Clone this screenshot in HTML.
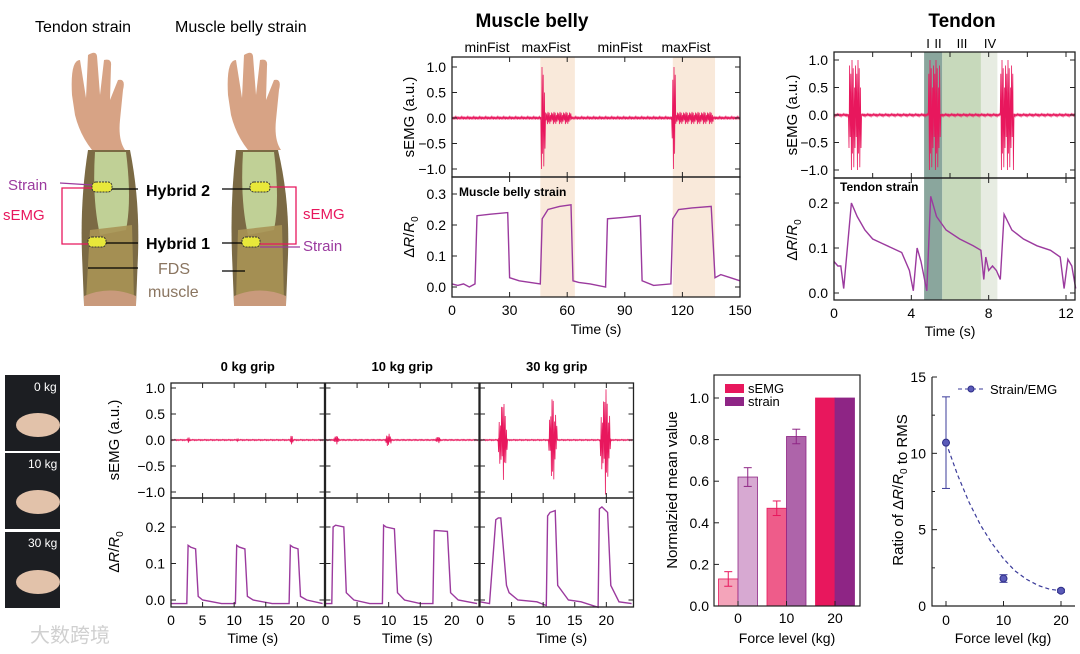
<!DOCTYPE html>
<html><head><meta charset="utf-8"><style>
html,body{margin:0;padding:0;background:#fff;}
svg{display:block;font-family:"Liberation Sans","Noto Sans CJK SC",sans-serif;}
</style></head><body>
<svg id="fig" width="1080" height="654" viewBox="0 0 1080 654" xmlns="http://www.w3.org/2000/svg">
<g>
<text x="35" y="32" font-size="16">Tendon strain</text>
<text x="175" y="32" font-size="16">Muscle belly strain</text>
<g>
<path d="M72 95 Q70 60 80 60 L86 98 L88 55 Q96 50 97 56 L100 95 L104 60 Q112 58 111 66 L110 100 L118 80 Q126 78 123 90 L120 120 Q118 140 125 150 L92 150 Q80 135 75 115 Z" fill="#d7a385"/>
<path d="M88 150 L130 150 Q140 200 138 255 L136 305 L84 305 L82 255 Q80 200 88 150 Z" fill="#7b6a44"/>
<path d="M95 152 L126 152 Q132 200 126 230 L100 235 Q92 200 95 152 Z" fill="#c8dca0" opacity="0.9"/>
<path d="M90 230 L132 225 L134 300 L86 300 Z" fill="#a89355" opacity="0.9"/>
<path d="M84 296 Q110 285 136 296 L136 306 L84 306Z" fill="#c99a7c"/>
<rect x="92" y="182" width="20" height="10" rx="4" fill="#e8e83a" stroke="#333" stroke-dasharray="2,1"/>
<rect x="88" y="237" width="18" height="10" rx="4" fill="#e8e83a" stroke="#333" stroke-dasharray="2,1"/>
</g>
<g>
<path d="M228 95 Q226 60 236 60 L242 98 L244 55 Q252 50 253 56 L256 95 L260 60 Q268 58 267 66 L266 100 L274 80 Q282 78 279 90 L276 120 Q274 140 281 150 L248 150 Q236 135 231 115 Z" fill="#d7a385"/>
<path d="M236 150 L278 150 Q290 200 288 255 L286 305 L234 305 L232 255 Q230 200 236 150 Z" fill="#7b6a44"/>
<path d="M243 152 L274 152 Q280 200 274 230 L248 235 Q240 200 243 152 Z" fill="#c8dca0" opacity="0.9"/>
<path d="M238 230 L282 225 L284 300 L236 300 Z" fill="#a89355" opacity="0.9"/>
<path d="M234 296 Q260 285 286 296 L286 306 L234 306Z" fill="#c99a7c"/>
<rect x="250" y="182" width="20" height="10" rx="4" fill="#e8e83a" stroke="#333" stroke-dasharray="2,1"/>
<rect x="242" y="237" width="18" height="10" rx="4" fill="#e8e83a" stroke="#333" stroke-dasharray="2,1"/>
</g>
<g stroke="#000" stroke-width="1.3">
<line x1="112" y1="189" x2="138" y2="189"/><line x1="222" y1="189" x2="250" y2="189"/>
<line x1="106" y1="243" x2="138" y2="243"/><line x1="222" y1="243" x2="242" y2="243"/>
<line x1="88" y1="268" x2="138" y2="268"/><line x1="222" y1="271" x2="245" y2="271"/>
</g>
<g fill="none" stroke="#e8175d" stroke-width="1.3">
<polyline points="92,188 62,188 62,244 88,244"/>
<polyline points="270,187 296,187 296,244 260,244"/>
</g>
<g stroke="#9b3a9e" stroke-width="1.3"><line x1="60" y1="183" x2="92" y2="185"/><line x1="260" y1="247" x2="300" y2="247"/></g>
<text x="8" y="190" font-size="15" fill="#9b3a9e">Strain</text>
<text x="3" y="220" font-size="15" fill="#e8175d">sEMG</text>
<text x="146" y="196" font-size="16" font-weight="bold">Hybrid 2</text>
<text x="146" y="249" font-size="16" font-weight="bold">Hybrid 1</text>
<text x="158" y="274" font-size="16" fill="#8a7560">FDS</text>
<text x="148" y="297" font-size="16" fill="#8a7560">muscle</text>
<text x="303" y="219" font-size="15" fill="#e8175d">sEMG</text>
<text x="303" y="251" font-size="15" fill="#9b3a9e">Strain</text>
</g>
<g>
<rect x="5" y="375" width="55" height="76" fill="#1c1e22"/>
<rect x="5" y="453" width="55" height="76" fill="#1c1e22"/>
<rect x="5" y="532" width="55" height="76" fill="#1c1e22"/>
<ellipse cx="38" cy="425" rx="22" ry="12" fill="#e2c2aa"/>
<ellipse cx="38" cy="502" rx="22" ry="12" fill="#e2c2aa"/>
<ellipse cx="38" cy="582" rx="22" ry="12" fill="#e2c2aa"/>
<text x="34" y="391" font-size="12" fill="#fff">0 kg</text>
<text x="28" y="468" font-size="12" fill="#fff">10 kg</text>
<text x="28" y="547" font-size="12" fill="#fff">30 kg</text>
</g>
<text x="30" y="642" font-size="20" fill="#d0d0d0">大数跨境</text>
</svg>
<script>
// ===== DATA =====
const mbEmgBursts = [[46.5,48.5,1.0],[48.5,62,0.12],[114.5,116.5,1.0],[116.5,136,0.12]];
const mbEmgBase = 0.03;
const mbStrainT = [0,3,6,9,12,13,20,29,30,35,46,47,50,56,62,63,66,72,80,81,90,98,99,105,114,115,118,125,135,137,140,145,150];
const mbStrainV = [0.01,0.005,0.01,0.0,0.01,0.23,0.235,0.24,0.03,0.02,0.01,0.22,0.25,0.26,0.265,0.02,0.015,0.01,0.0,0.22,0.225,0.23,0.02,0.005,0.01,0.22,0.25,0.255,0.26,0.03,0.04,0.03,0.02];
const tdEmgBursts = [[0.75,1.4,1.0],[4.9,5.5,1.0],[8.6,9.3,1.0]];
const tdStrainT = [0,0.2,0.35,0.5,0.9,1.2,1.6,2.0,2.5,3.0,3.5,3.9,4.1,4.3,4.5,4.8,5.0,5.3,5.8,6.5,7.2,7.6,7.75,7.85,8.0,8.2,8.4,8.6,8.8,9.2,9.8,10.5,11.2,11.7,11.9,12.1,12.3,12.5];
const tdStrainV = [0.07,0.06,0.06,0.01,0.2,0.17,0.14,0.12,0.11,0.10,0.09,0.05,0.005,0.1,0.07,0.005,0.215,0.17,0.14,0.12,0.105,0.095,0.03,0.08,0.05,0.06,0.05,0.03,0.175,0.14,0.12,0.105,0.095,0.08,0.01,0.075,0.06,0.01];
const gripTitles = ["0 kg grip","10 kg grip","30 kg grip"];
const gripEmgBursts = [
  [[2.6,3.0,0.06],[10.4,10.7,0.03],[18.9,19.3,0.12]],
  [[1.3,2.1,0.1],[9.5,10.4,0.16],[17.4,18.2,0.08]],
  [[2.9,4.3,0.85],[10.9,12.2,0.92],[19.0,20.7,1.05]]];
const gripStrainT = [
  [0,2.5,2.7,3.1,3.9,4.3,5,8,10.2,10.4,10.8,11.7,12.1,13,16,18.7,18.9,19.3,20.1,20.5,21.5,24],
  [0,1.0,1.2,1.6,2.9,3.3,4.5,7,9.0,9.2,9.6,10.9,11.4,12.5,15,17.0,17.2,17.6,19.3,19.8,21,24],
  [0,1.5,2.5,2.9,3.3,4.2,4.6,6,9,10.5,10.7,11.1,11.9,12.3,14,16,18.7,18.9,19.3,20.2,20.7,22,24]];
const gripStrainV = [
  [-0.01,-0.01,0.15,0.145,0.14,0.01,0.0,-0.01,-0.01,0.15,0.145,0.14,0.01,0.0,-0.01,-0.01,0.15,0.145,0.14,0.01,0.0,-0.01],
  [-0.01,-0.01,0.2,0.205,0.2,0.02,0.0,-0.01,-0.01,0.205,0.2,0.195,0.02,0.0,-0.01,-0.01,0.19,0.19,0.188,0.02,0.0,-0.01],
  [-0.005,-0.01,0.22,0.225,0.225,0.04,0.02,0.0,-0.005,-0.015,0.23,0.24,0.245,0.04,0.0,-0.005,-0.02,0.25,0.255,0.24,0.04,-0.005,-0.01]];
const barCats = ["0","10","20"];
const barSemg = [0.13,0.47,1.0];
const barSemgErr = [0.035,0.035,0];
const barStrain = [0.62,0.815,1.0];
const barStrainErr = [0.045,0.035,0];
const barSemgColors = ["#f4a4ba","#ee5c8a","#e8175d"];
const barStrainColors = ["#d7a9d2","#ae64aa","#8e2585"];
const ratioX = [0,10,20];
const ratioY = [10.7,1.8,1.0];
const ratioErr = [3.0,0.25,0.1];
const fitX = [0,2,4,6,8,10,12,14,16,18,20];
const fitY = [10.7,8.6,6.8,5.3,4.1,3.1,2.3,1.75,1.35,1.1,1.0];

// ===== HELPERS =====
const NS="http://www.w3.org/2000/svg";
const svg=document.getElementById('fig');
function mk(tag,attrs,parent){const e=document.createElementNS(NS,tag);for(const k in attrs)e.setAttribute(k,attrs[k]);(parent||svg).appendChild(e);return e;}
function scale(d0,d1,r0,r1){return v=>r0+(v-d0)/(d1-d0)*(r1-r0);}
function txt(s,x,y,size,attrs,parent){const t=mk('text',Object.assign({x:x,y:y,'font-size':size},attrs||{}),parent);t.textContent=s;return t;}
function frame(g,x0,x1,y0,y1,xs,ys,xt,yt,xl,yl,fmt){
  const r=mk('rect',{x:x0,y:y0,width:x1-x0,height:y1-y0,fill:'none',stroke:'#222','stroke-width':1.3},g);
  
  
  xt.forEach(v=>{const X=xs(v);mk('line',{x1:X,x2:X,y1:y1,y2:y1-5,stroke:'#222'},g);mk('line',{x1:X,x2:X,y1:y0,y2:y0+5,stroke:'#222'},g);
    if(xl){const t=txt(String(v),X,y1+18,14,{'text-anchor':'middle'},g);}});
  yt.forEach(v=>{const Y=ys(v);mk('line',{x1:x0,x2:x0+5,y1:Y,y2:Y,stroke:'#222'},g);mk('line',{x1:x1,x2:x1-5,y1:Y,y2:Y,stroke:'#222'},g);
    if(yl){const t=txt(fmt(v),x0-6,Y+5,14,{'text-anchor':'end'},g);}});
}
const f1=v=>(v<0?'\u2212':'')+Math.abs(v).toFixed(1);
const zig=[1,-0.7,0.85,-0.95,0.5,-0.6,0.9,-0.4,0.75,-1];
function emg(g,xs,ys,bursts,base,t0,t1,taper){
  let d='M'+xs(t0)+' '+ys(0);let i=0;
  const px0=xs(t0),px1=xs(t1);
  for(let p=px0;p<=px1;p+=0.6){
    const t=t0+(p-px0)/(px1-px0)*(t1-t0);let a=base;
    bursts.forEach(b=>{if(t>=b[0]&&t<=b[1]){let env=1;if(taper){const u=(t-b[0])/(b[1]-b[0]);env=0.35+0.65*(1-Math.abs(2*u-1));}a=Math.max(a,b[2]*env);}});
    d+=' L'+p.toFixed(1)+' '+ys(a*zig[i%zig.length]).toFixed(1);i++;
  }
  const pth=mk('path',{d:d,fill:'none',stroke:'#e8175d','stroke-width':0.8},g);
  
  
}
function line(g,xs,ys,T,V,name){
  const pts=T.map((t,i)=>xs(t).toFixed(1)+','+ys(V[i]).toFixed(1)).join(' ');
  const p=mk('polyline',{points:pts,fill:'none',stroke:'#9b3a9e','stroke-width':1.4},g);
  
  
}
function ylab(g,s,x,y,size){const t=mk('text',{x:0,y:0,'font-size':size,'text-anchor':'middle',transform:'translate('+x+','+y+') rotate(-90)'},g);t.innerHTML=s;return t;}
const ratioLab='\u0394<tspan font-style="italic">R</tspan>/<tspan font-style="italic">R</tspan><tspan font-size="10" dy="4">0</tspan>';

// ===== MUSCLE BELLY =====
(function(){
  const g=mk('g',{});
  const xs=scale(0,150,452,740);
  const yu=scale(0,1,118,67), yl=scale(0,0.3,287,194);
  [[46,64],[115,137]].forEach(b=>{const r=mk('rect',{x:xs(b[0]),y:57,width:xs(b[1])-xs(b[0]),height:240,fill:'#f9e9da'},g);});
  emg(g,xs,yu,mbEmgBursts,mbEmgBase,0,150,false);
  line(g,xs,yl,mbStrainT,mbStrainV,'muscle-belly-strain-line');
  frame(g,452,740,57,177,xs,yu,[0,30,60,90,120,150],[-1,-0.5,0,0.5,1],false,true,f1);
  frame(g,452,740,177,297,xs,yl,[0,30,60,90,120,150],[0,0.1,0.2,0.3],true,true,f1);
  let t=txt('Muscle belly',532,27,19,{'font-weight':'bold','text-anchor':'middle'},g);
  ['minFist','maxFist','minFist','maxFist'].forEach((s,i)=>{const tt=txt(s,[487,546,620,686][i],52,14,{'text-anchor':'middle'},g);});
  t=txt('Muscle belly strain',459,196,12,{'font-weight':'bold'},g);
  t=ylab(g,'sEMG (a.u.)',414,117,15);
  t=ylab(g,ratioLab,414,237,15);
  t=txt('Time (s)',596,334,14,{'text-anchor':'middle'},g);
})();

// ===== TENDON =====
(function(){
  const g=mk('g',{});
  const xs=scale(0,12,834,1066);
  const yu=scale(0,1,115,60), yl=scale(0,0.2,293,203);
  [[4.66,5.6,'#8aa69d'],[5.6,7.6,'#c7d9bb'],[7.6,8.45,'#e7ece2']].forEach(b=>{const r=mk('rect',{x:xs(b[0]),y:52,width:xs(b[1])-xs(b[0]),height:248,fill:b[2]},g);});
  emg(g,xs,yu,tdEmgBursts,0.025,0,12.5,false);
  line(g,xs,yl,tdStrainT,tdStrainV,'tendon-strain-line');
  frame(g,834,1075,52,178,xs,yu,[0,2,4,6,8,10,12],[-1,-0.5,0,0.5,1],false,true,f1);
  frame(g,834,1075,178,300,xs,yl,[0,4,8,12],[0,0.1,0.2],true,true,f1);
  let t=txt('Tendon',962,27,19,{'font-weight':'bold','text-anchor':'middle'},g);
  [['I',928],['II',938],['III',962],['IV',990]].forEach(p=>{const tt=txt(p[0],p[1],48,13,{'text-anchor':'middle'},g);});
  t=txt('Tendon strain',840,191,12,{'font-weight':'bold'},g);
  t=ylab(g,'sEMG (a.u.)',797,115,15);
  t=ylab(g,ratioLab,797,240,15);
  t=txt('Time (s)',950,336,14,{'text-anchor':'middle'},g);
})();

// ===== GRIP PANELS =====
(function(){
  const lefts=[171,325.5,480];
  gripTitles.forEach((title,k)=>{
    const g=mk('g',{});
    const x0=lefts[k],x1=x0+153.5;
    const xs=scale(0,24.3,x0,x1);
    const yu=scale(0,1,440,388), yl=scale(0,0.1,600,563.5);
    emg(g,xs,yu,gripEmgBursts[k],0.012,0,24.3,true);
    line(g,xs,yl,gripStrainT[k],gripStrainV[k],'grip-strain-line');
    frame(g,x0,x1,383,498,xs,yu,[0,5,10,15,20],[-1,-0.5,0,0.5,1],false,k==0,f1);
    frame(g,x0,x1,498,607,xs,yl,[0,5,10,15,20],[0,0.1,0.2],true,k==0,f1);
    let t=txt(title,(x0+x1)/2,371,13,{'font-weight':'bold','text-anchor':'middle'},g);
    t=txt('Time (s)',(x0+x1)/2+5,643,14,{'text-anchor':'middle'},g);
  });
  let t=ylab(svg,'sEMG (a.u.)',119,440,15);
  t=ylab(svg,ratioLab,119,552,15);
})();

// ===== BAR CHART =====
(function(){
  const g=mk('g',{});
  const ys=scale(0,1,606,398);
  const xc=scale(0,2,738,835);
  const bw=19.5;
  barCats.forEach((c,i)=>{
    const cx=xc(i);
    const r1=mk('rect',{x:cx-bw,y:ys(barSemg[i]),width:bw,height:ys(0)-ys(barSemg[i]),fill:barSemgColors[i],stroke:'#e8175d','stroke-width':0.8},g);
    
    
    const r2=mk('rect',{x:cx,y:ys(barStrain[i]),width:bw,height:ys(0)-ys(barStrain[i]),fill:barStrainColors[i],stroke:'#8e2585','stroke-width':0.8},g);
    
    
    [[cx-bw/2,barSemg[i],barSemgErr[i],'#e8175d'],[cx+bw/2,barStrain[i],barStrainErr[i],'#8e2585']].forEach(e=>{
      if(e[2]>0){const a=ys(e[1]+e[2]),b=ys(e[1]-e[2]);
        mk('line',{x1:e[0],x2:e[0],y1:a,y2:b,stroke:e[3]},g);mk('line',{x1:e[0]-4,x2:e[0]+4,y1:a,y2:a,stroke:e[3]},g);mk('line',{x1:e[0]-4,x2:e[0]+4,y1:b,y2:b,stroke:e[3]},g);}
    });
    const t=txt(c,cx,623,14,{'text-anchor':'middle'},g);
    mk('line',{x1:cx,x2:cx,y1:606,y2:601,stroke:'#222'},g);
  });
  const ax=mk('rect',{x:714,y:375,width:146,height:231,fill:'none',stroke:'#222','stroke-width':1.2},g);
  
  
  [0,0.2,0.4,0.6,0.8,1.0].forEach(v=>{mk('line',{x1:714,x2:719,y1:ys(v),y2:ys(v),stroke:'#222'},g);const t=txt(v.toFixed(1),709,ys(v)+5,14,{'text-anchor':'end'},g);});
  let s=mk('rect',{x:725,y:384,width:19,height:9,fill:'#e8175d'},g);
  s=mk('rect',{x:725,y:397,width:19,height:9,fill:'#8e2585'},g);
  let t=txt('sEMG',748,393,13,{},g);
  t=txt('strain',748,406,13,{},g);
  t=ylab(g,'Normalzied mean value',677,490,15);
  t=txt('Force level (kg)',787,643,14,{'text-anchor':'middle'},g);
})();

// ===== RATIO CHART =====
(function(){
  const g=mk('g',{});
  const xs=scale(0,20,946,1061), ys=scale(0,15,606,377);
  const fx=mk('path',{d:'M932 377 L932 606 L1075 606',fill:'none',stroke:'#222','stroke-width':1.2},g);
  
  
  [0,5,10,15].forEach(v=>{mk('line',{x1:932,x2:937,y1:ys(v),y2:ys(v),stroke:'#222'},g);const t=txt(String(v),926,ys(v)+5,14,{'text-anchor':'end'},g);});
  [2.5,7.5,12.5].forEach(v=>mk('line',{x1:932,x2:935,y1:ys(v),y2:ys(v),stroke:'#222'},g));
  [0,10,20].forEach(v=>{mk('line',{x1:xs(v),x2:xs(v),y1:606,y2:601,stroke:'#222'},g);const t=txt(String(v),xs(v),625,14,{'text-anchor':'middle'},g);});
  const fit=mk('polyline',{points:fitX.map((x,i)=>xs(x)+','+ys(fitY[i])).join(' '),fill:'none',stroke:'#3b3b9a','stroke-width':1.2,'stroke-dasharray':'4,3'},g);
  
  
  ratioX.forEach((x,i)=>{
    const X=xs(x),a=ys(ratioY[i]+ratioErr[i]),b=ys(ratioY[i]-ratioErr[i]);
    mk('line',{x1:X,x2:X,y1:a,y2:b,stroke:'#3b3b9a'},g);mk('line',{x1:X-4,x2:X+4,y1:a,y2:a,stroke:'#3b3b9a'},g);mk('line',{x1:X-4,x2:X+4,y1:b,y2:b,stroke:'#3b3b9a'},g);
    const c=mk('circle',{cx:X,cy:ys(ratioY[i]),r:3.5,fill:'#5a5ab8',stroke:'#2e2e88'},g);
    
    
  });
  mk('line',{x1:958,x2:984,y1:389,y2:389,stroke:'#3b3b9a','stroke-dasharray':'4,3'},g);
  mk('circle',{cx:971,cy:389,r:3,fill:'#5a5ab8',stroke:'#2e2e88'},g);
  let t=txt('Strain/EMG',990,394,13,{},g);
  t=ylab(g,'Ratio of '+ratioLab+' to RMS',903,490,15);
  t=txt('Force level (kg)',1003,643,14,{'text-anchor':'middle'},g);
})();
</script>
</body></html>
